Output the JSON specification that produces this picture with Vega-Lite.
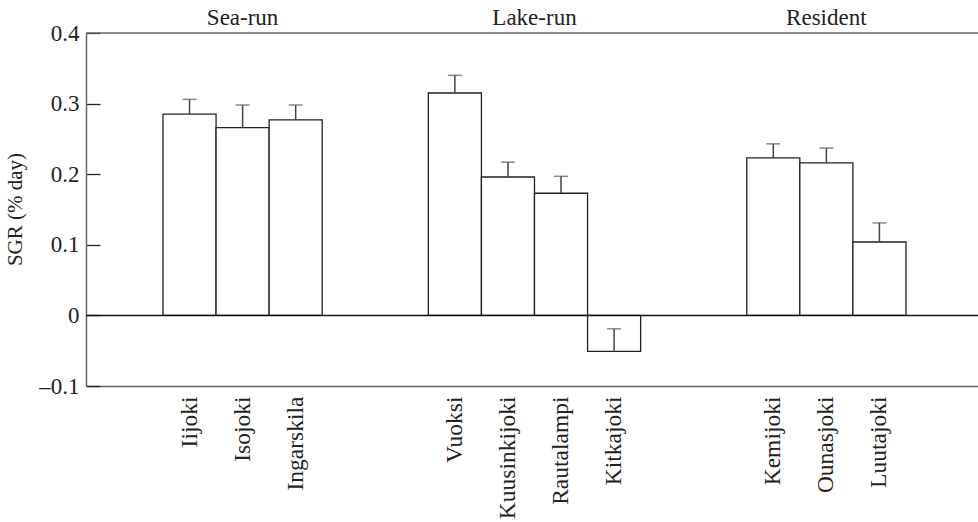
{
  "$schema": "https://vega.github.io/schema/vega-lite/v6.json",
  "width": 892,
  "height": 353,
  "autosize": {"type": "none"},
  "padding": {"left": 86, "top": 33, "right": 0, "bottom": 136},
  "background": "white",
  "config": {"font": "Liberation Serif", "view": {"stroke": null}},
  "datasets": {
    "sites": [
      {"group": "Sea-run", "site": "Iijoki", "mean": 0.285, "upper": 0.306},
      {"group": "Sea-run", "site": "Isojoki", "mean": 0.266, "upper": 0.298},
      {"group": "Sea-run", "site": "Ingarskila", "mean": 0.277, "upper": 0.298},
      {"group": "Lake-run", "site": "Vuoksi", "mean": 0.315, "upper": 0.340},
      {"group": "Lake-run", "site": "Kuusinkijoki", "mean": 0.196, "upper": 0.217},
      {"group": "Lake-run", "site": "Rautalampi", "mean": 0.173, "upper": 0.197},
      {"group": "Lake-run", "site": "Kitkajoki", "mean": -0.051, "upper": -0.019},
      {"group": "Resident", "site": "Kemijoki", "mean": 0.223, "upper": 0.243},
      {"group": "Resident", "site": "Ounasjoki", "mean": 0.216, "upper": 0.237},
      {"group": "Resident", "site": "Luutajoki", "mean": 0.104, "upper": 0.131}
    ],
    "groupsMid": [
      {"group": "Sea-run", "site": "Isojoki"},
      {"group": "Resident", "site": "Ounasjoki"}
    ],
    "groupsEdge": [
      {"group": "Lake-run", "site": "Rautalampi"}
    ]
  },
  "data": {"name": "sites"},
  "encoding": {
    "x": {
      "field": "site",
      "type": "nominal",
      "sort": null,
      "scale": {
        "domain": ["gap0", "Iijoki", "Isojoki", "Ingarskila", "gap1", "gap2", "Vuoksi", "Kuusinkijoki", "Rautalampi", "Kitkajoki", "gap3", "gap4", "Kemijoki", "Ounasjoki", "Luutajoki", "gap5"],
        "paddingInner": 0,
        "paddingOuter": 0.404,
        "align": 0.558
      },
      "axis": {
        "orient": "bottom",
        "title": null,
        "values": ["Iijoki", "Isojoki", "Ingarskila", "Vuoksi", "Kuusinkijoki", "Rautalampi", "Kitkajoki", "Kemijoki", "Ounasjoki", "Luutajoki"],
        "ticks": false,
        "domainColor": "#666",
        "domainWidth": 1.5,
        "labelAngle": -90,
        "labelAlign": "right",
        "labelBaseline": "middle",
        "labelFontSize": 23.5,
        "labelColor": "#222",
        "labelPadding": 10
      }
    }
  },
  "layer": [
    {
      "mark": {"type": "bar", "fill": "white", "stroke": "#222", "strokeWidth": 1.3},
      "encoding": {
        "y": {
          "field": "mean",
          "type": "quantitative",
          "scale": {"domain": [-0.1, 0.4], "nice": false},
          "axis": {
            "values": [-0.1, 0, 0.1, 0.2, 0.3, 0.4],
            "labelExpr": "datum.value == 0 ? '0' : (datum.value < 0 ? '–' + format(-datum.value, '.1f') : format(datum.value, '.1f'))",
            "title": "SGR (% day)",
            "grid": false,
            "tickSize": -14,
            "tickColor": "#222",
            "tickWidth": 1.3,
            "domainColor": "#666",
            "domainWidth": 1.5,
            "labelFontSize": 23,
            "labelColor": "#222",
            "labelPadding": 21,
            "titleFontSize": 21,
            "titleFontWeight": "normal",
            "titleColor": "#222",
            "titleAngle": -90,
            "titleX": -65,
            "titleY": 176,
            "titleAlign": "center",
            "titleBaseline": "alphabetic"
          }
        }
      }
    },
    {
      "mark": {"type": "rule", "color": "#444", "strokeWidth": 1.5},
      "encoding": {
        "y": {"field": "mean", "type": "quantitative"},
        "y2": {"field": "upper"}
      }
    },
    {
      "mark": {"type": "tick", "color": "#555", "thickness": 1.5, "size": 14},
      "encoding": {
        "y": {"field": "upper", "type": "quantitative"}
      }
    },
    {
      "data": {"values": [{}]},
      "mark": {"type": "rule", "color": "#111", "strokeWidth": 1.5},
      "encoding": {"x": null, "y": {"datum": 0}}
    },
    {
      "data": {"values": [{}]},
      "mark": {"type": "rule", "color": "#666", "strokeWidth": 1.5},
      "encoding": {"x": null, "y": {"datum": 0.4}}
    },
    {
      "data": {"name": "groupsMid"},
      "mark": {"type": "text", "fontSize": 23, "color": "#222", "baseline": "alphabetic", "align": "center", "dy": -8},
      "encoding": {
        "x": {"field": "site", "type": "nominal", "bandPosition": 0.5},
        "y": {"datum": 0.4},
        "text": {"field": "group"}
      }
    },
    {
      "data": {"name": "groupsEdge"},
      "mark": {"type": "text", "fontSize": 23, "color": "#222", "baseline": "alphabetic", "align": "center", "dy": -8},
      "encoding": {
        "x": {"field": "site", "type": "nominal", "bandPosition": 0},
        "y": {"datum": 0.4},
        "text": {"field": "group"}
      }
    }
  ]
}
